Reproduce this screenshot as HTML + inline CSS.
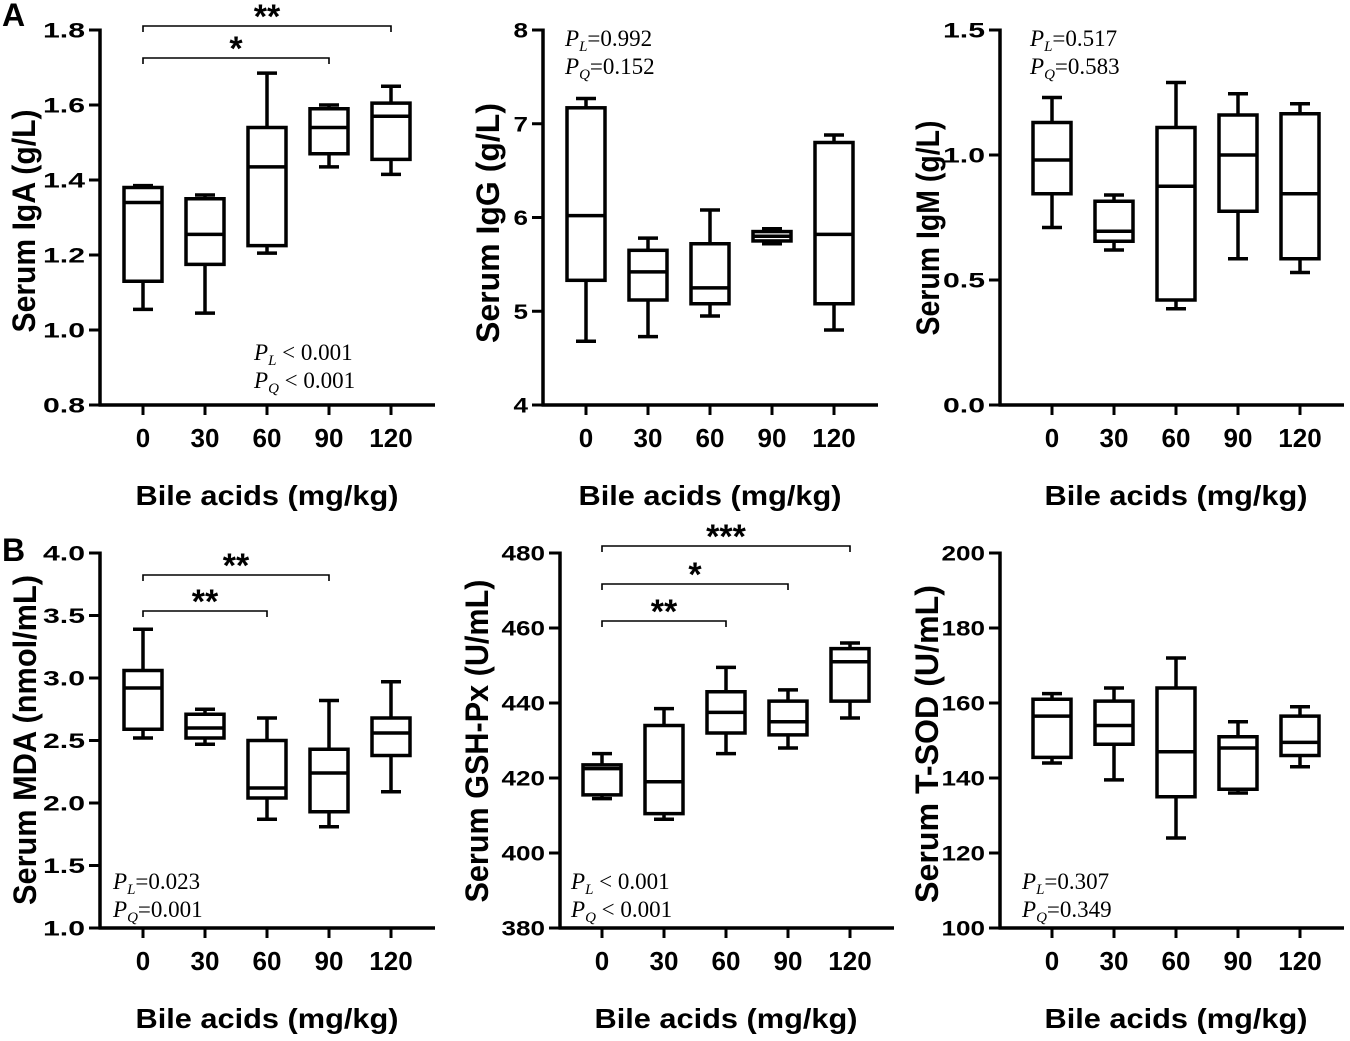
<!DOCTYPE html>
<html><head><meta charset="utf-8"><style>
body{margin:0;background:#fff}
svg{display:block}
.t{font-family:"Liberation Sans",Arial,sans-serif;font-weight:bold;fill:#000}
.p{font-family:"Liberation Serif",serif;font-size:23px;fill:#000}
</style></head><body>
<svg id="c" width="1350" height="1041" viewBox="0 0 1350 1041"></svg>
<script>
const categories=["0","30","60","90","120"];
const igaLow=[1.055,1.045,1.205,1.435,1.415],igaQ1=[1.13,1.175,1.225,1.47,1.455],igaMed=[1.34,1.255,1.435,1.54,1.57],igaQ3=[1.38,1.35,1.54,1.59,1.605],igaHigh=[1.385,1.36,1.685,1.60,1.65];
const iggLow=[4.68,4.73,4.95,5.72,4.8],iggQ1=[5.33,5.12,5.08,5.75,5.08],iggMed=[6.02,5.42,5.25,5.8,5.82],iggQ3=[7.17,5.65,5.72,5.85,6.8],iggHigh=[7.27,5.78,6.08,5.88,6.88];
const igmLow=[0.71,0.62,0.385,0.585,0.53],igmQ1=[0.845,0.655,0.42,0.775,0.585],igmMed=[0.98,0.695,0.875,1.0,0.845],igmQ3=[1.13,0.815,1.11,1.16,1.165],igmHigh=[1.23,0.84,1.29,1.245,1.205];
const mdaLow=[2.52,2.47,1.87,1.81,2.09],mdaQ1=[2.59,2.52,2.04,1.93,2.38],mdaMed=[2.92,2.6,2.12,2.24,2.56],mdaQ3=[3.06,2.71,2.5,2.43,2.68],mdaHigh=[3.39,2.75,2.68,2.82,2.97];
const gshLow=[414.5,409,426.5,428,436],gshQ1=[415.5,410.5,432,431.5,440.5],gshMed=[422.5,419,437.5,435,451],gshQ3=[423.5,434,443,440.5,454.5],gshHigh=[426.5,438.5,449.5,443.5,456];
const sodLow=[144,139.5,124,136,143],sodQ1=[145.5,149,135,137,146],sodMed=[156.5,154,147,148,149.5],sodQ3=[161,160.5,164,151,156.5],sodHigh=[162.5,164,172,155,159];
const igaTicks=["0.8","1.0","1.2","1.4","1.6","1.8"],iggTicks=["4","5","6","7","8"],igmTicks=["0.0","0.5","1.0","1.5"];
const mdaTicks=["1.0","1.5","2.0","2.5","3.0","3.5","4.0"],gshTicks=["380","400","420","440","460","480"],sodTicks=["100","120","140","160","180","200"];

const NS="http://www.w3.org/2000/svg",svg=document.getElementById('c');
function mk(tag,at,parent,txt){const e=document.createElementNS(NS,tag);for(const k in at)e.setAttribute(k,at[k]);if(txt!==undefined)e.textContent=txt;(parent||svg).appendChild(e);return e;}

function panel(o){
  const g=mk('g',{});
  
  
  const ymin=parseFloat(o.ticks[0]),ymax=parseFloat(o.ticks[o.ticks.length-1]);
  const y=v=>o.bot-(v-ymin)/(ymax-ymin)*(o.bot-o.top);
  const x=i=>o.cx0+i*62;
  const axEnd=o.cx0+4*62+44;
  const ya=mk('line',{x1:o.ax,y1:o.top-1.5,x2:o.ax,y2:o.bot+1.5,stroke:'#000','stroke-width':3.5},g);
  
  const xa=mk('line',{x1:o.ax-1.5,y1:o.bot,x2:axEnd,y2:o.bot,stroke:'#000','stroke-width':3.5},g);
  
  o.ticks.forEach(t=>{const yy=y(parseFloat(t));
    mk('line',{x1:o.ax-11,y1:yy,x2:o.ax,y2:yy,stroke:'#000','stroke-width':3},g);
    const len=t.replace('.','').length*14.5+(t.includes('.')?13:0);
    const tl=mk('text',{x:o.ax-15,y:yy+7.5,'text-anchor':'end','font-size':21,class:'t',textLength:len,lengthAdjust:'spacingAndGlyphs'},g,t);
    });
  categories.forEach((c,i)=>{
    mk('line',{x1:x(i),y1:o.bot,x2:x(i),y2:o.bot+10,stroke:'#000','stroke-width':3},g);
    const tl=mk('text',{x:x(i),y:o.bot+42,'text-anchor':'middle','font-size':26,class:'t'},g,c);
    
    const bx=mk('g',{},g);
    
    const lo=o.d[0][i],q1=o.d[1][i],md=o.d[2][i],q3=o.d[3][i],hi=o.d[4][i],w=19,cw=10;
    const st={stroke:'#000','stroke-width':3.5,fill:'none'};
    mk('line',Object.assign({x1:x(i),y1:y(hi),x2:x(i),y2:y(q3)},st),bx);
    mk('line',Object.assign({x1:x(i),y1:y(lo),x2:x(i),y2:y(q1)},st),bx);
    mk('line',Object.assign({x1:x(i)-cw,y1:y(hi),x2:x(i)+cw,y2:y(hi)},st),bx);
    mk('line',Object.assign({x1:x(i)-cw,y1:y(lo),x2:x(i)+cw,y2:y(lo)},st),bx);
    mk('rect',Object.assign({x:x(i)-w,y:y(q3),width:2*w,height:y(q1)-y(q3),fill:'#fff'},st),bx);
    mk('line',Object.assign({x1:x(i)-w,y1:y(md),x2:x(i)+w,y2:y(md)},st),bx);
  });
  const yt=mk('text',{transform:`translate(${o.yt[0]},${o.yt[1]}) rotate(-90)`,'text-anchor':'middle','font-size':32,class:'t',textLength:o.yt[2],lengthAdjust:'spacingAndGlyphs'},g,o.ylabel);
  
  const xt=mk('text',{x:x(2),y:o.bot+100,'text-anchor':'middle','font-size':28,class:'t',textLength:263,lengthAdjust:'spacingAndGlyphs'},g,'Bile acids (mg/kg)');
  
  (o.br||[]).forEach(b=>{const bg=mk('g',{},g);
    
    mk('path',{d:`M${x(0)},${b[1]+6}V${b[1]}H${x(b[0])}V${b[1]+6}`,stroke:'#000','stroke-width':1.6,fill:'none'},bg);
    mk('text',{x:(x(0)+x(b[0]))/2,y:b[1]+2,'text-anchor':'middle','font-size':34,class:'t'},bg,b[2]);});
  const pg=mk('g',{},g);
  
  [['L',o.p[2]],['Q',o.p[3]]].forEach((r,k)=>{
    const t=mk('text',{x:o.p[0],y:o.p[1]+k*28,class:'p'},pg);
    mk('tspan',{'font-style':'italic'},t,'P');
    mk('tspan',{'font-style':'italic','font-size':15,dy:5},t,r[0]);
    mk('tspan',{dy:-5},t,r[1]);});
}
const A=[30,405],B=[553,928];
panel({name:'panel-iga',ax:100,cx0:143,top:A[0],bot:A[1],ticks:igaTicks,d:[igaLow,igaQ1,igaMed,igaQ3,igaHigh],ylabel:'Serum IgA (g/L)',yt:[35,221,223],br:[[4,26,'**'],[3,58,'*']],p:[254,360,' < 0.001',' < 0.001']});
panel({name:'panel-igg',ax:543,cx0:586,top:A[0],bot:A[1],ticks:iggTicks,d:[iggLow,iggQ1,iggMed,iggQ3,iggHigh],ylabel:'Serum IgG (g/L)',yt:[499,223,240],p:[565,46,'=0.992','=0.152']});
panel({name:'panel-igm',ax:1000,cx0:1052,top:A[0],bot:A[1],ticks:igmTicks,d:[igmLow,igmQ1,igmMed,igmQ3,igmHigh],ylabel:'Serum IgM (g/L)',yt:[939,228,215],p:[1030,46,'=0.517','=0.583']});
panel({name:'panel-mda',ax:100,cx0:143,top:B[0],bot:B[1],ticks:mdaTicks,d:[mdaLow,mdaQ1,mdaMed,mdaQ3,mdaHigh],ylabel:'Serum MDA (nmol/mL)',yt:[36,740,330],br:[[3,575,'**'],[2,611,'**']],p:[113,889,'=0.023','=0.001']});
panel({name:'panel-gsh',ax:560,cx0:602,top:B[0],bot:B[1],ticks:gshTicks,d:[gshLow,gshQ1,gshMed,gshQ3,gshHigh],ylabel:'Serum GSH-Px (U/mL)',yt:[488,741,323],br:[[4,546,'***'],[3,584,'*'],[2,621,'**']],p:[571,889,' < 0.001',' < 0.001']});
panel({name:'panel-sod',ax:1000,cx0:1052,top:B[0],bot:B[1],ticks:sodTicks,d:[sodLow,sodQ1,sodMed,sodQ3,sodHigh],ylabel:'Serum T-SOD (U/mL)',yt:[938,744,318],p:[1022,889,'=0.307','=0.349']});
const la=mk('text',{x:2,y:26,'font-size':32,class:'t'},svg,'A');

const lb=mk('text',{x:2,y:561,'font-size':32,class:'t'},svg,'B');

</script>
</body></html>
